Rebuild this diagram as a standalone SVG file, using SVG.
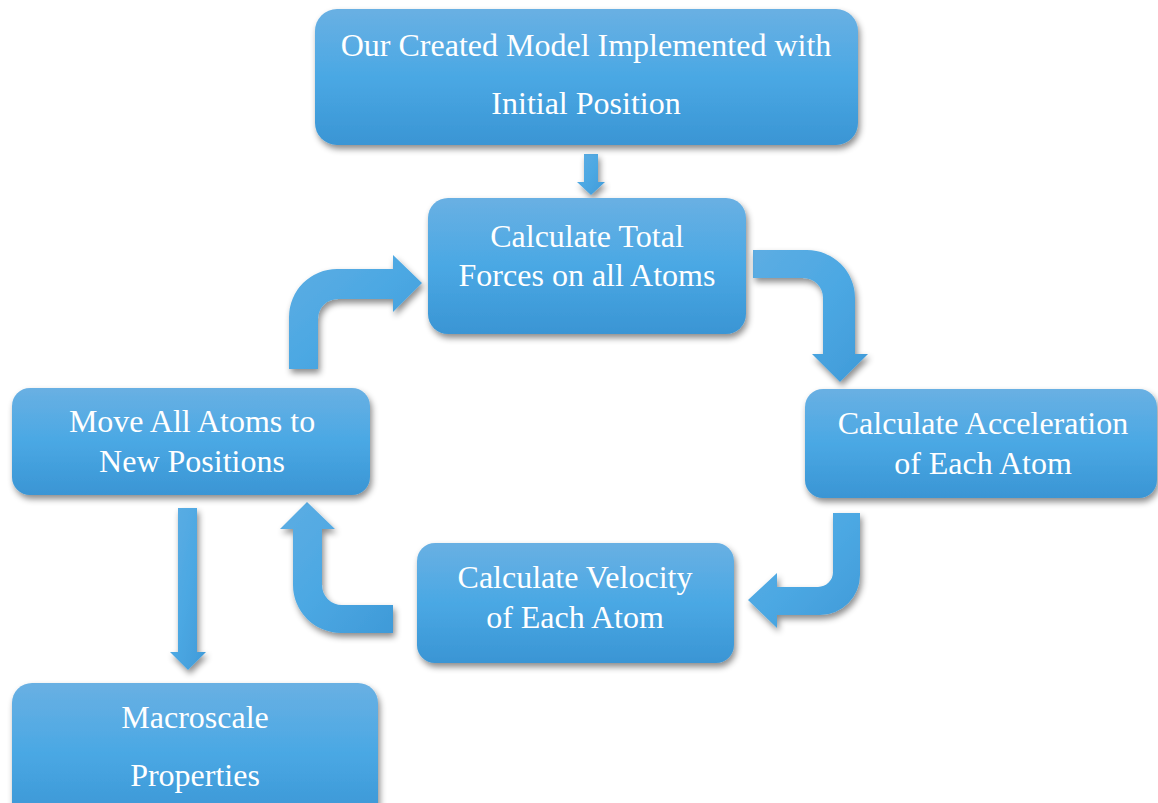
<svg xmlns="http://www.w3.org/2000/svg" width="1158" height="803" viewBox="0 0 1158 803">
<defs>
<linearGradient id="gBox" x1="0" y1="0" x2="0" y2="1">
<stop offset="0" stop-color="#69b0e3"/>
<stop offset="0.5" stop-color="#4aa8e4"/>
<stop offset="1" stop-color="#3a95d4"/>
</linearGradient>
<linearGradient id="gArr" x1="0" y1="0" x2="1" y2="1">
<stop offset="0" stop-color="#5dade3"/>
<stop offset="0.5" stop-color="#4ca8e3"/>
<stop offset="1" stop-color="#3f9ad8"/>
</linearGradient>
<filter id="sh" x="-20%" y="-20%" width="140%" height="150%">
<feDropShadow dx="2" dy="4" stdDeviation="3" flood-color="#000" flood-opacity="0.45"/>
</filter>
<style>
.box{fill:url(#gBox);filter:url(#sh)}
.arr{fill:url(#gArr);filter:url(#sh)}
.t{font-family:"Liberation Serif","Times New Roman",serif;font-size:32px;fill:#fff;text-anchor:middle}
</style>
</defs>
<g id="connectors">
<path class="arr" d="M584,154 L598,154 L598,182 L605,182 L591,195 L577,182 L584,182 Z"/>
<path class="arr" d="M289,369 L289,317 A48,48 0 0 1 337,269 L393,269 L393,255 L422,283 L393,312 L393,299 L338,299 A20,20 0 0 0 318,319 L318,369 Z"/>
<path class="arr" d="M753,250 L807,250 A48,48 0 0 1 855,298 L855,354 L868,354 L840,382 L812,354 L823,354 L823,298 A20,20 0 0 0 803,278 L753,278 Z"/>
<path class="arr" d="M833,513 L860,513 L860,575 A40,40 0 0 1 820,615 L777,615 L777,628 L748,600 L777,573 L777,587 L818,587 A15,15 0 0 0 833,572 Z"/>
<path class="arr" d="M393,605 L342,605 A20,20 0 0 1 322,585 L322,529 L335,529 L307,502 L280,529 L293,529 L293,585 A48,48 0 0 0 341,633 L393,633 Z"/>
<path class="arr" d="M178,508 L197,508 L197,652 L206,652 L188,670 L170,652 L178,652 Z"/>
</g>
<g id="n1">
<rect class="box" x="315" y="9" width="543" height="136" rx="22"/>
<text class="t" x="586" y="56">Our Created Model Implemented with</text>
<text class="t" x="586" y="114">Initial Position</text>
</g>
<g id="n2">
<rect class="box" x="428" y="198" width="318" height="136" rx="20"/>
<text class="t" x="587" y="247">Calculate Total</text>
<text class="t" x="587" y="286">Forces on all Atoms</text>
</g>
<g id="n3">
<rect class="box" x="805" y="389" width="352" height="109" rx="18"/>
<text class="t" x="983" y="434">Calculate Acceleration</text>
<text class="t" x="983" y="474">of Each Atom</text>
</g>
<g id="n4">
<rect class="box" x="417" y="543" width="317" height="120" rx="18"/>
<text class="t" x="575" y="588">Calculate Velocity</text>
<text class="t" x="575" y="628">of Each Atom</text>
</g>
<g id="n5">
<rect class="box" x="12" y="388" width="358" height="107" rx="18"/>
<text class="t" x="192" y="432">Move All Atoms to</text>
<text class="t" x="192" y="472">New Positions</text>
</g>
<g id="n6">
<rect class="box" x="12" y="683" width="366" height="140" rx="20"/>
<text class="t" x="195" y="728">Macroscale</text>
<text class="t" x="195" y="786">Properties</text>
</g>
</svg>
